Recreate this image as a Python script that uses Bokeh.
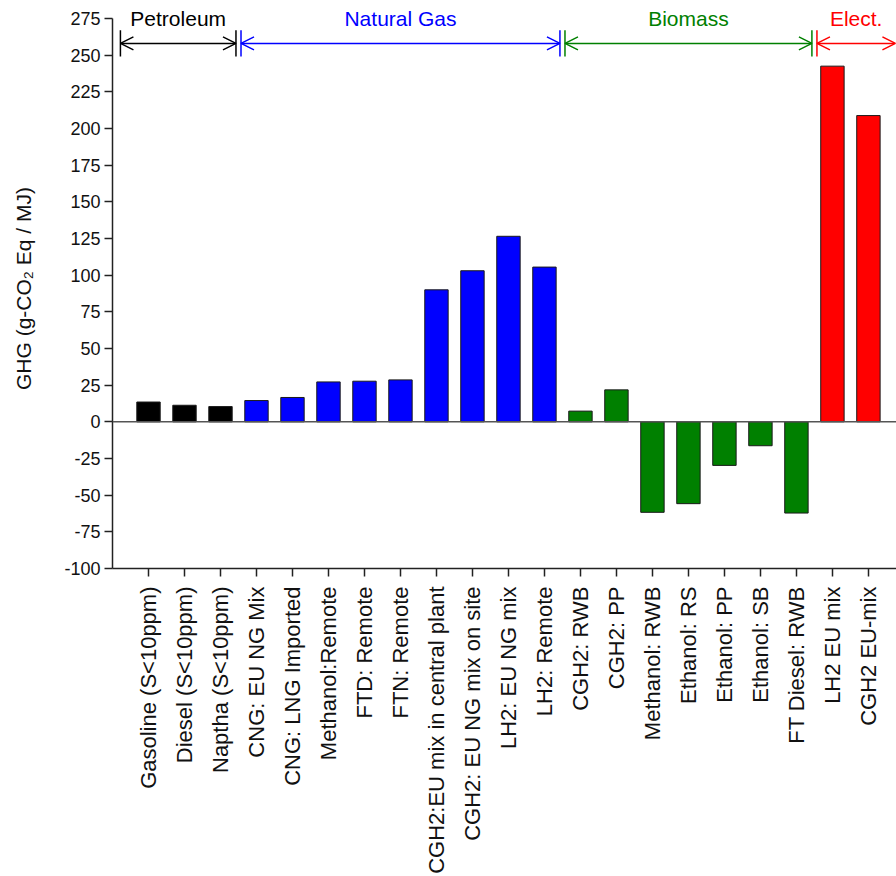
from bokeh.plotting import figure
from bokeh.models import (ColumnDataSource, FixedTicker, Span, Arrow, OpenHead,
                          Label)
from bokeh.embed import file_html
from bokeh.resources import INLINE

# ---- data ----
categories = [
    "Gasoline (S<10ppm)", "Diesel (S<10ppm)", "Naptha (S<10ppm)",
    "CNG: EU NG Mix", "CNG: LNG Imported", "Methanol:Remote", "FTD: Remote",
    "FTN: Remote", "CGH2:EU mix in central plant", "CGH2: EU NG mix on site",
    "LH2: EU NG mix", "LH2: Remote",
    "CGH2: RWB", "CGH2: PP", "Methanol: RWB", "Ethanol: RS", "Ethanol: PP",
    "Ethanol: SB", "FT Diesel: RWB",
    "LH2 EU mix", "CGH2 EU-mix",
]
ghg = [13.5, 11.3, 10.4,
       14.5, 16.6, 27.2, 27.7, 28.6, 90.0, 103.0, 126.5, 105.5,
       7.3, 21.8, -61.7, -55.8, -29.7, -16.3, -62.2,
       242.5, 208.8]
group_names = ["Petroleum", "Natural Gas", "Biomass", "Elect."]
group_sizes = [3, 9, 7, 2]
group_colors = ["#000000", "#0000FF", "#008000", "#FF0000"]
y_ticks = list(range(-100, 276, 25))

# ---- derived ----
colors = []
for c, n in zip(group_colors, group_sizes):
    colors += [c] * n
xs = list(range(len(categories)))
src = ColumnDataSource(dict(x=xs, top=ghg, color=colors))

FONT = "Liberation Sans"

p = figure(width=896, height=876, output_backend="svg", toolbar_location=None,
           x_range=(-1, 20.78), y_range=(-100, 281.8),
           min_border_left=112, min_border_right=0, min_border_top=8,
           min_border_bottom=307, outline_line_color=None)
p.grid.visible = False

p.vbar(x="x", top="top", bottom=0, width=0.65, source=src,
       fill_color="color", line_color="#1a1a1a", line_width=1)

p.add_layout(Span(location=0, dimension="width", line_color="#555555",
                  line_width=1.5))

# axes
p.yaxis.ticker = FixedTicker(ticks=y_ticks)
p.yaxis.major_label_overrides = {t: str(t) for t in y_ticks}
p.yaxis.bounds = (-100, 275)
p.yaxis.axis_label = "GHG (g-CO\u2082 Eq / MJ)"
p.yaxis.axis_label_text_font = FONT
p.yaxis.axis_label_text_font_style = "normal"
p.yaxis.axis_label_text_font_size = "21px"
p.yaxis.axis_label_standoff = 26
p.yaxis.major_label_text_font = FONT
p.yaxis.major_label_text_font_size = "18px"
p.yaxis.major_label_standoff = 4
p.yaxis.major_tick_out = 8
p.yaxis.major_tick_in = 0
p.yaxis.minor_tick_line_color = None
p.yaxis.axis_line_width = 1.5
p.yaxis.major_tick_line_width = 1.5

p.xaxis.ticker = FixedTicker(ticks=xs)
p.xaxis.major_label_overrides = {i: c for i, c in enumerate(categories)}
p.xaxis.major_label_orientation = 1.5707963
p.xaxis.major_label_text_font = FONT
p.xaxis.major_label_text_font_size = "22px"
p.xaxis.major_label_standoff = 10
p.xaxis.major_tick_out = 8
p.xaxis.major_tick_in = 0
p.xaxis.minor_tick_line_color = None
p.xaxis.axis_line_width = 1.5
p.xaxis.major_tick_line_width = 1.5
for ax in (p.xaxis, p.yaxis):
    ax.axis_line_color = "#222222"
    ax.major_tick_line_color = "#222222"
    ax.major_label_text_color = "#111111"
    ax.axis_label_text_color = "#111111"

# group arrows
arrow_y = 258
bar_half = 9
gap = 0.07
bounds = [-0.78]
acc = 0
for n in group_sizes[:-1]:
    acc += n
    bounds.append(acc - 0.5)
bounds.append(20.75)
for i, (name, col) in enumerate(zip(group_names, group_colors)):
    x0 = bounds[i] + (gap if i > 0 else 0)
    x1 = bounds[i + 1] - (gap if i < len(group_names) - 1 else 0)
    p.add_layout(Arrow(start=OpenHead(size=13, line_color=col, line_width=1.5),
                       end=OpenHead(size=13, line_color=col, line_width=1.5),
                       x_start=x0, y_start=arrow_y, x_end=x1, y_end=arrow_y,
                       line_color=col, line_width=1.5))
    ends = [x0, x1] if i < len(group_names) - 1 else [x0]
    p.segment(x0=ends, y0=[arrow_y - bar_half] * len(ends),
              x1=ends, y1=[arrow_y + bar_half] * len(ends),
              line_color=col, line_width=1.5)
    p.add_layout(Label(x=(x0 + x1) / 2, y=275, text=name, text_color=col,
                       text_font=FONT, text_font_size="21px",
                       text_align="center", text_baseline="middle"))

open("out.html", "w").write(file_html(p, INLINE))
